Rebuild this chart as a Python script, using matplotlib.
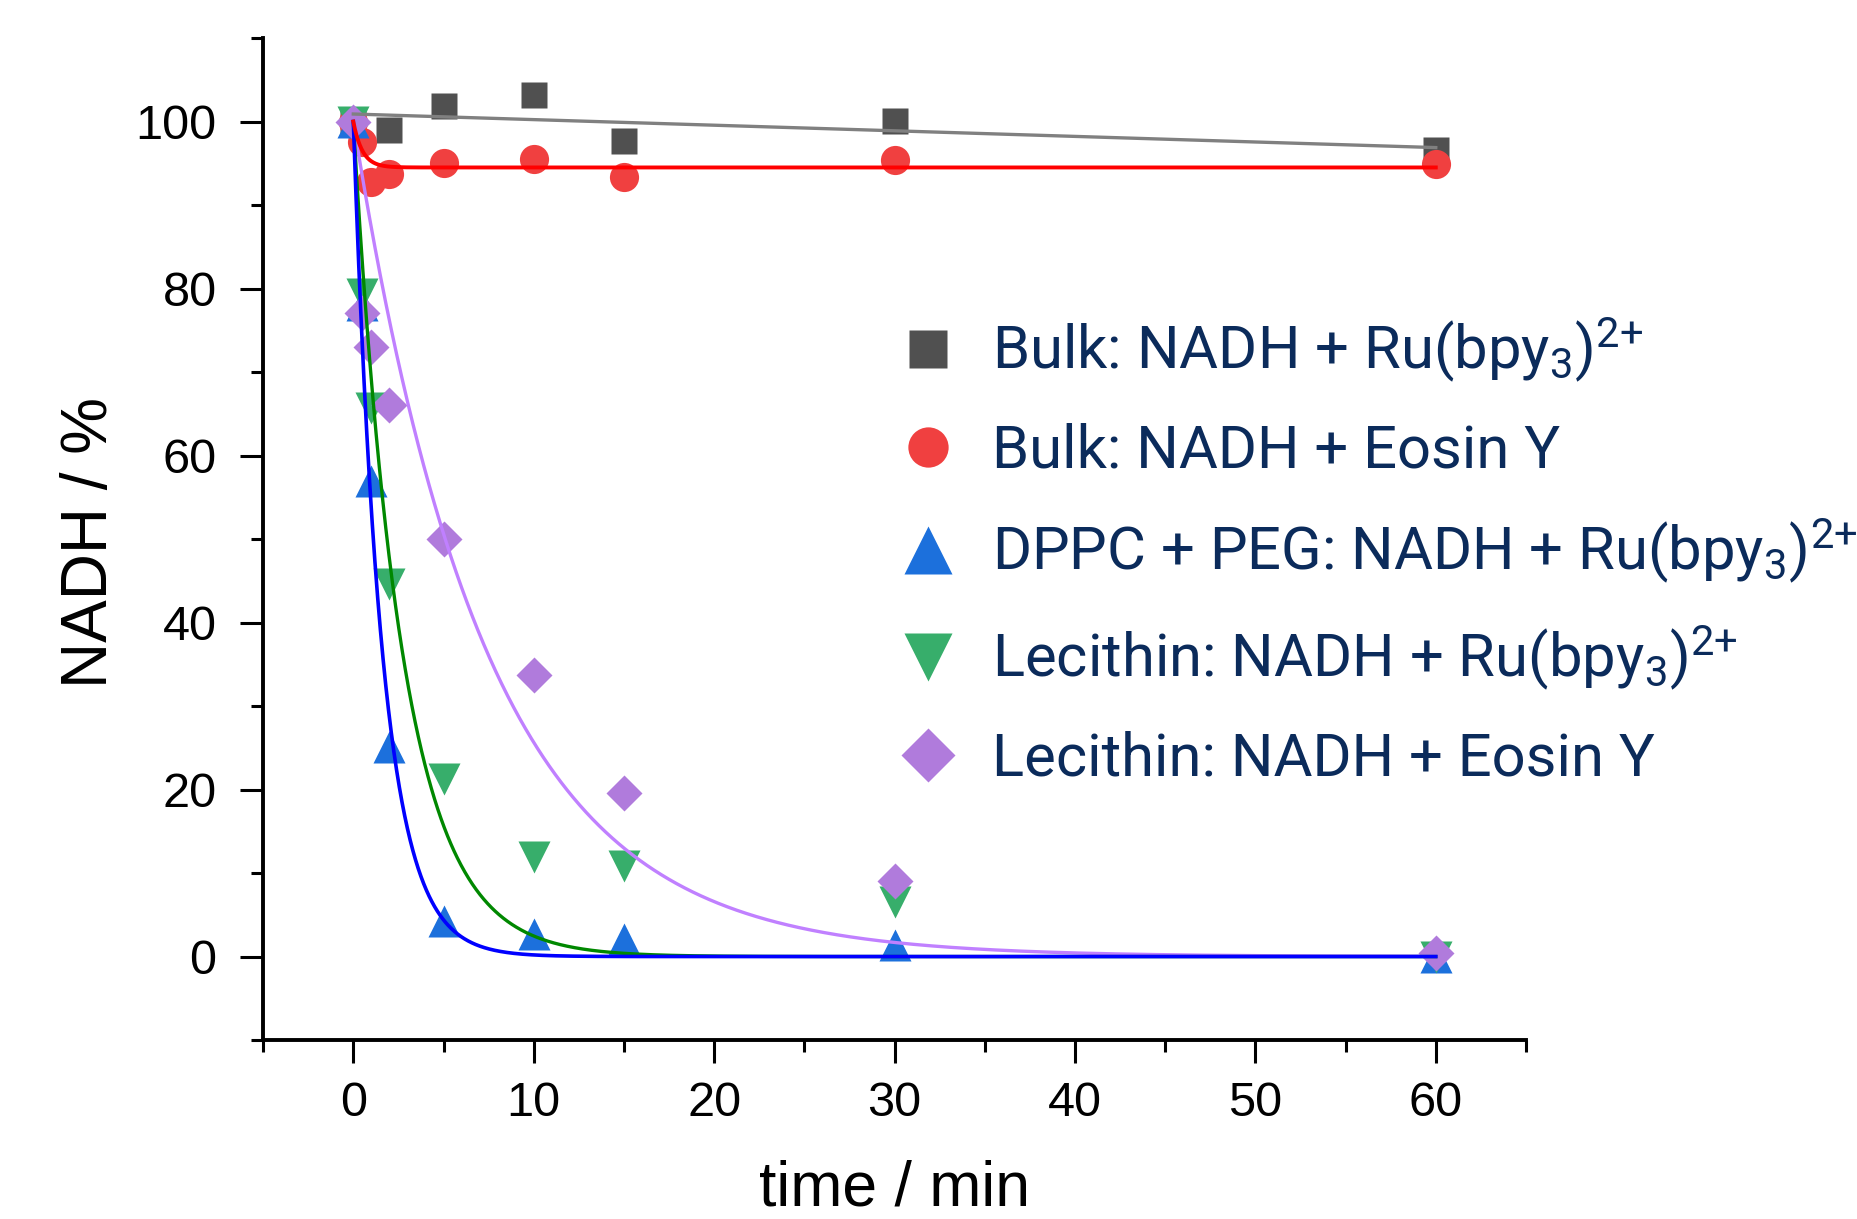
import numpy as np
import matplotlib
matplotlib.use('Agg')
import matplotlib.pyplot as plt
from matplotlib.lines import Line2D

# ---- data ----
time_bulk_ru = [0, 2, 5, 10, 15, 30, 60]
nadh_bulk_ru = [100, 99.0, 101.9, 103.2, 97.7, 100.1, 96.6]

time_bulk_eo = [0, 0.5, 1, 2, 5, 10, 15, 30, 60]
nadh_bulk_eo = [100, 97.5, 92.7, 93.7, 95.0, 95.5, 93.3, 95.4, 94.9]

time_dppc_ru = [0, 0.5, 1, 2, 5, 10, 15, 30, 60]
nadh_dppc_ru = [100, 78.0, 57.0, 25.1, 4.2, 2.7, 2.1, 1.4, 0.0]

time_lec_ru = [0, 0.5, 1, 2, 5, 10, 15, 30, 60]
nadh_lec_ru = [100, 79.4, 65.7, 44.6, 21.3, 11.9, 10.9, 6.5, 0.0]

time_lec_eo = [0, 0.5, 1, 2, 5, 10, 15, 30, 60]
nadh_lec_eo = [100, 77.1, 73.0, 66.0, 50.0, 33.7, 19.6, 9.0, 0.4]

# fit parameters
fit_bulk_ru = dict(intercept=100.9, slope=-0.067)
fit_bulk_eo = dict(plateau=94.5, amp=5.5, tau=0.5)
fit_dppc_ru = dict(amp=100.0, tau=1.6)
fit_lec_ru = dict(amp=100.0, tau=2.7)
fit_lec_eo = dict(amp=100.0, tau=7.35)

ru = r'Ru(bpy$\mathregular{_3}$)$\mathregular{^{2{+}}}$'
labels = ['Bulk: NADH + ' + ru,
          'Bulk: NADH + Eosin Y',
          'DPPC + PEG: NADH + ' + ru,
          'Lecithin: NADH + ' + ru,
          'Lecithin: NADH + Eosin Y']

# ---- styles ----
c_sq, c_ci, c_up, c_dn, c_di = '#505050', '#f04040', '#1c70dc', '#37ae6b', '#b07bdc'
l_sq, l_ci, l_up, l_dn, l_di = '#808080', '#ff0000', '#0000ff', '#008800', '#c080ff'

plt.rcParams['font.family'] = ['Liberation Sans', 'DejaVu Sans']

fig = plt.figure(figsize=(18.58, 12.19), dpi=100)
ax = fig.add_axes([0.1416, 0.1468, 0.8213 - 0.1416, 0.9688 - 0.1468])

ax.plot(time_bulk_ru, nadh_bulk_ru, 's', ms=19, color=c_sq, mec='none', zorder=3)
ax.plot(time_bulk_eo, nadh_bulk_eo, 'o', ms=21, color=c_ci, mec='none', zorder=3)
ax.plot(time_dppc_ru, nadh_dppc_ru, '^', ms=23, color=c_up, mec='none', zorder=3)
ax.plot(time_lec_ru, nadh_lec_ru, 'v', ms=23, color=c_dn, mec='none', zorder=3)
ax.plot(time_lec_eo, nadh_lec_eo, 'D', ms=18.5, color=c_di, mec='none', zorder=3)

t = np.linspace(0, 60, 2000)
ax.plot(t, fit_bulk_ru['intercept'] + fit_bulk_ru['slope'] * t, color=l_sq, lw=2.4, zorder=4)
ax.plot(t, fit_lec_eo['amp'] * np.exp(-t / fit_lec_eo['tau']), color=l_di, lw=2.4, zorder=4)
ax.plot(t, fit_lec_ru['amp'] * np.exp(-t / fit_lec_ru['tau']), color=l_dn, lw=2.4, zorder=4)
ax.plot(t, fit_dppc_ru['amp'] * np.exp(-t / fit_dppc_ru['tau']), color=l_up, lw=2.6, zorder=4)
ax.plot(t, fit_bulk_eo['plateau'] + fit_bulk_eo['amp'] * np.exp(-t / fit_bulk_eo['tau']),
        color=l_ci, lw=2.8, zorder=4)

ax.set_xlim(-5, 65)
ax.set_ylim(-10, 110)
ax.set_xticks(np.arange(0, 61, 10))
ax.set_xticks(np.arange(-5, 66, 10), minor=True)
ax.set_yticks(np.arange(0, 101, 20))
ax.set_yticks(np.arange(-10, 111, 20), minor=True)

for s in ['top', 'right']:
    ax.spines[s].set_visible(False)
for s in ['left', 'bottom']:
    ax.spines[s].set_linewidth(2.8)
ax.tick_params(which='major', direction='out', length=16.5, width=2.2, labelsize=35)
ax.tick_params(which='minor', direction='out', length=8.5, width=2.2)
ax.tick_params(axis='x', which='major', pad=13)
ax.tick_params(axis='y', which='major', pad=17)

fig.text(0.0484, 0.5546, 'NADH / %', rotation=90, ha='center', va='center', fontsize=46)
fig.text(0.4815, 0.011, 'time / min', ha='center', va='baseline', fontsize=45)

# legend
handles = [
    Line2D([], [], ls='none', marker='s', ms=27, color=c_sq, mec='none'),
    Line2D([], [], ls='none', marker='o', ms=29, color=c_ci, mec='none'),
    Line2D([], [], ls='none', marker='^', ms=34, color=c_up, mec='none'),
    Line2D([], [], ls='none', marker='v', ms=34, color=c_dn, mec='none'),
    Line2D([], [], ls='none', marker='D', ms=27, color=c_di, mec='none'),
]
leg = fig.legend(handles, labels, loc='upper left', bbox_to_anchor=(0.4833, 1 - 316 / 1219),
                 frameon=False, prop={'family': ['Roboto', 'DejaVu Sans'], 'size': 43},
                 handlelength=1.0, handletextpad=0.57, labelspacing=0.63,
                 borderpad=0, borderaxespad=0)
for txt in leg.get_texts():
    txt.set_color('#0b2b5b')

fig.savefig('out.png', dpi=100)
